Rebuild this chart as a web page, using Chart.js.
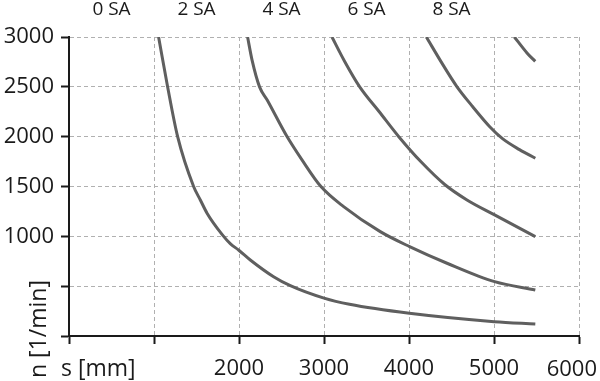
<!DOCTYPE html>
<html>
<head>
<meta charset="utf-8">
<script src="https://cdn.jsdelivr.net/npm/chart.js@4.4.1/dist/chart.umd.min.js"></script>
<style>
html,body{margin:0;padding:0;background:#fff;}
#wrap{width:600px;height:381px;position:relative;}
</style>
</head>
<body>
<div id="wrap"><canvas id="c" width="600" height="381"></canvas></div>
<script>
// ---- data ----
const seriesNames = ["0 SA", "2 SA", "4 SA", "6 SA", "8 SA"];
const topLabelPositions = [500, 1500, 2500, 3500, 4500];
const curveA_s = [1054, 1160, 1278, 1466, 1545, 1624, 1800, 1900, 1995, 2133, 2407, 2604, 3000, 3300, 4004, 5003, 5486];
const curveA_n = [3000, 2500, 2000, 1500, 1365, 1232, 1020, 925, 863, 763, 595, 505, 380, 318, 228, 144, 120];
const curveB_s = [2101, 2153, 2243, 2330, 2565, 2741, 2964, 3231, 3662, 4007, 4447, 5007, 5486];
const curveB_n = [3000, 2771, 2497, 2370, 2001, 1767, 1499, 1298, 1047, 897, 730, 545, 462];
const curveC_s = [3094, 3240, 3420, 3650, 3880, 4150, 4420, 4682, 5007, 5486];
const curveC_n = [3000, 2760, 2500, 2250, 2000, 1740, 1520, 1365, 1215, 997];
const curveD_s = [4204, 4400, 4565, 4750, 4950, 5100, 5300, 5486];
const curveD_n = [3000, 2720, 2500, 2300, 2100, 1980, 1870, 1784];
const curveE_s = [5240, 5388, 5485];
const curveE_n = [3000, 2840, 2755];
const xTickLabelsShown = [2000, 3000, 4000, 5000];
const xLastTickLabel = 6000;
const yTickLabelsShown = [1000, 1500, 2000, 2500, 3000];
const xTitle = "s [mm]";
const yTitle = "n [1/min]";

const FONT = "'Open Sans', sans-serif";
const LINE = "#5f5f5f";

function pts(xs, ys){ return xs.map((x,i)=>({x:x, y:ys[i]})); }
const curves = [
  pts(curveA_s, curveA_n),
  pts(curveB_s, curveB_n),
  pts(curveC_s, curveC_n),
  pts(curveD_s, curveD_n),
  pts(curveE_s, curveE_n)
];

const titlePlugin = {
  id: 'titles',
  afterDraw(chart){
    const ctx = chart.ctx;
    const xs = chart.scales.x;
    ctx.save();
    ctx.fillStyle = '#1a1a1a';
    ctx.font = "22px " + FONT;
    ctx.textBaseline = 'alphabetic';
    ctx.textAlign = 'right';
    ctx.fillText(String(xLastTickLabel), chart.width - 3, 376);
    ctx.font = "23px " + FONT;
    ctx.textAlign = 'left';
    ctx.fillText(xTitle, xs.left - 8, 376);
    ctx.translate(46, 329);
    ctx.rotate(-Math.PI/2);
    ctx.textAlign = 'center';
    ctx.fillText(yTitle, 0, 0);
    ctx.restore();
  }
};

function noPad(s){ s.paddingLeft = 0; s.paddingRight = 0; }

new Chart(document.getElementById('c'), {
  type: 'line',
  data: {
    datasets: curves.map((d,i)=>({
      label: seriesNames[i],
      data: d,
      borderColor: LINE,
      borderWidth: 3,
      pointRadius: 0,
      fill: false,
      cubicInterpolationMode: 'monotone'
    }))
  },
  options: {
    responsive: false,
    animation: false,
    devicePixelRatio: 1,
    layout: { padding: { top: 0, right: 21, left: 0, bottom: 0 } },
    plugins: { legend: { display: false }, tooltip: { enabled: false } },
    scales: {
      x: {
        type: 'linear', position: 'bottom', min: 0, max: 6000,
        afterFit(s){ s.height = 45; noPad(s); },
        ticks: {
          stepSize: 1000, padding: 12, color: '#1a1a1a',
          font: { family: FONT, size: 22 },
          maxRotation: 0,
          callback: v => xTickLabelsShown.includes(v) ? String(v) : ''
        },
        grid: {
          color: c => (c.tick && c.tick.value === 0) ? 'rgba(0,0,0,0)' : '#b0b0b0',
          lineWidth: 1, drawTicks: true, tickLength: 8, tickColor: '#1a1a1a', tickWidth: 2
        },
        border: { display: true, color: '#1a1a1a', width: 2, dash: [4, 3] }
      },
      x2: {
        type: 'linear', position: 'top', min: 0, max: 6000,
        afterFit(s){ s.height = 37; noPad(s); },
        afterBuildTicks(s){ s.ticks = topLabelPositions.map(v=>({value:v})); },
        ticks: {
          padding: 16, color: '#1a1a1a',
          font: { family: FONT, size: 19 },
          maxRotation: 0, autoSkip: false,
          callback: (v, i) => seriesNames[i]
        },
        grid: { display: false, drawTicks: false },
        border: { display: false }
      },
      y: {
        type: 'linear', position: 'left', min: 0, max: 3000,
        afterFit(s){ s.width = 69; },
        ticks: {
          stepSize: 500, padding: 7, color: '#1a1a1a',
          font: { family: FONT, size: 22 },
          callback: v => yTickLabelsShown.includes(v) ? String(v) : ''
        },
        grid: {
          color: c => (c.tick && c.tick.value === 0) ? 'rgba(0,0,0,0)' : '#b0b0b0',
          lineWidth: 1, drawTicks: true, tickLength: 8, tickColor: '#1a1a1a', tickWidth: 2
        },
        border: { display: true, color: '#1a1a1a', width: 2, dash: [4, 3] }
      }
    }
  },
  plugins: [titlePlugin]
});
</script>
</body>
</html>
